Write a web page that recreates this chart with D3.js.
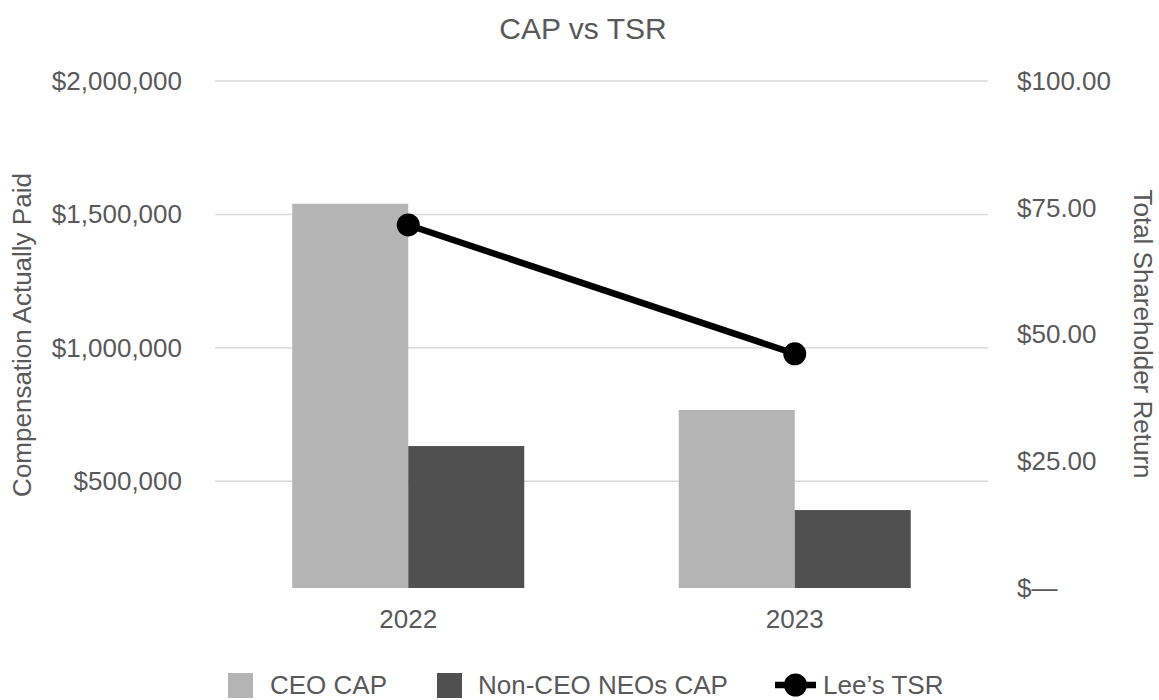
<!DOCTYPE html>
<html>
<head>
<meta charset="utf-8">
<script src="https://cdn.jsdelivr.net/npm/d3@7"></script>
<style>
  body { margin: 0; background: #fff; }
  text { font-family: "Liberation Sans", Arial, sans-serif; fill: #595959; }
</style>
</head>
<body>
<div id="chart"></div>
<script>
// data
const years = ["2022", "2023"];
const ceoCap = [1540000, 767000];
const nonCeoCap = [632000, 392000];
const tsr = [71.6, 46.2];
const leftTicks = [500000, 1000000, 1500000, 2000000];
const rightTicks = [0, 25, 50, 75, 100];

const width = 1159, height = 700;
const plot = { left: 215, right: 988, top: 81, bottom: 588 };

const svg = d3.select("#chart")
  .append("svg")
  .attr("width", width)
  .attr("height", height);

const x = d3.scaleBand().domain(years).range([plot.left, plot.right]);
const sub = d3.scaleBand().domain(["ceo", "non"]).range([-116, 116]);
const yL = d3.scaleLinear().domain([100000, 2000000]).range([plot.bottom, plot.top]);
const yR = d3.scaleLinear().domain([0, 100]).range([plot.bottom, plot.top]);

// title
svg.append("text")
  .attr("x", 583).attr("y", 39)
  .attr("text-anchor", "middle")
  .style("font-size", "30px")
  .text("CAP vs TSR");

// gridlines
svg.append("g")
  .selectAll("line")
  .data(leftTicks)
  .join("line")
  .attr("x1", plot.left).attr("x2", plot.right)
  .attr("y1", d => yL(d)).attr("y2", d => yL(d))
  .attr("stroke", "#d9d9d9")
  .attr("stroke-width", 1.5);

// left axis
const fmtL = d => "$" + d3.format(",")(d);
const leftAxis = svg.append("g")
  .attr("transform", "translate(182,0)")
  .call(d3.axisLeft(yL).tickValues(leftTicks).tickFormat(fmtL).tickSize(0).tickPadding(0));
leftAxis.select(".domain").remove();
leftAxis.selectAll("text").style("font-size", "26px").attr("fill", "#595959");

// right axis
const fmtR = d => d === 0 ? "$\u2014" : "$" + d3.format(".2f")(d);
const rightAxis = svg.append("g")
  .attr("transform", "translate(1017,0)")
  .call(d3.axisRight(yR).tickValues(rightTicks).tickFormat(fmtR).tickSize(0).tickPadding(0));
rightAxis.select(".domain").remove();
rightAxis.selectAll("text").style("font-size", "26px").attr("fill", "#595959");

// x axis labels
const xAxis = svg.append("g")
  .attr("transform", `translate(0,${plot.bottom + 22})`)
  .call(d3.axisBottom(x).tickSize(0).tickPadding(0));
xAxis.select(".domain").remove();
xAxis.selectAll("text").style("font-size", "26px").attr("fill", "#595959");

// axis titles
svg.append("text")
  .attr("transform", "translate(31,335) rotate(-90)")
  .attr("text-anchor", "middle")
  .style("font-size", "26px")
  .text("Compensation Actually Paid");

svg.append("text")
  .attr("transform", "translate(1134,334) rotate(90)")
  .attr("text-anchor", "middle")
  .style("font-size", "26px")
  .text("Total Shareholder Return");

// bars
const bars = svg.append("g");
bars.selectAll("rect.ceo")
  .data(years)
  .join("rect")
  .attr("class", "ceo")
  .attr("x", (d) => x(d) + x.bandwidth() / 2 + sub("ceo"))
  .attr("width", sub.bandwidth())
  .attr("y", (d, i) => yL(ceoCap[i]))
  .attr("height", (d, i) => plot.bottom - yL(ceoCap[i]))
  .attr("fill", "#b4b4b4");

bars.selectAll("rect.non")
  .data(years)
  .join("rect")
  .attr("class", "non")
  .attr("x", (d) => x(d) + x.bandwidth() / 2 + sub("non"))
  .attr("width", sub.bandwidth())
  .attr("y", (d, i) => yL(nonCeoCap[i]))
  .attr("height", (d, i) => plot.bottom - yL(nonCeoCap[i]))
  .attr("fill", "#505050");

// TSR line
const line = d3.line()
  .x((d, i) => x(years[i]) + x.bandwidth() / 2)
  .y(d => yR(d));

svg.append("path")
  .datum(tsr)
  .attr("d", line)
  .attr("fill", "none")
  .attr("stroke", "#000")
  .attr("stroke-width", 6.5);

svg.append("g")
  .selectAll("circle")
  .data(tsr)
  .join("circle")
  .attr("cx", (d, i) => x(years[i]) + x.bandwidth() / 2)
  .attr("cy", d => yR(d))
  .attr("r", 11.5)
  .attr("fill", "#000");

// legend
const legend = svg.append("g");
const ly = 685;
legend.append("rect").attr("x", 228).attr("y", ly - 12).attr("width", 25).attr("height", 25).attr("fill", "#b4b4b4");
legend.append("text").attr("x", 270).attr("y", ly + 9).style("font-size", "26px").text("CEO CAP");
legend.append("rect").attr("x", 437).attr("y", ly - 12).attr("width", 25).attr("height", 25).attr("fill", "#505050");
legend.append("text").attr("x", 478).attr("y", ly + 9).style("font-size", "26px").text("Non-CEO NEOs CAP");
legend.append("line").attr("x1", 775).attr("x2", 816).attr("y1", ly).attr("y2", ly).attr("stroke", "#000").attr("stroke-width", 6.5);
legend.append("circle").attr("cx", 795.5).attr("cy", ly).attr("r", 11.5).attr("fill", "#000");
legend.append("text").attr("x", 823).attr("y", ly + 9).style("font-size", "26px").text("Lee\u2019s TSR");
</script>
</body>
</html>
